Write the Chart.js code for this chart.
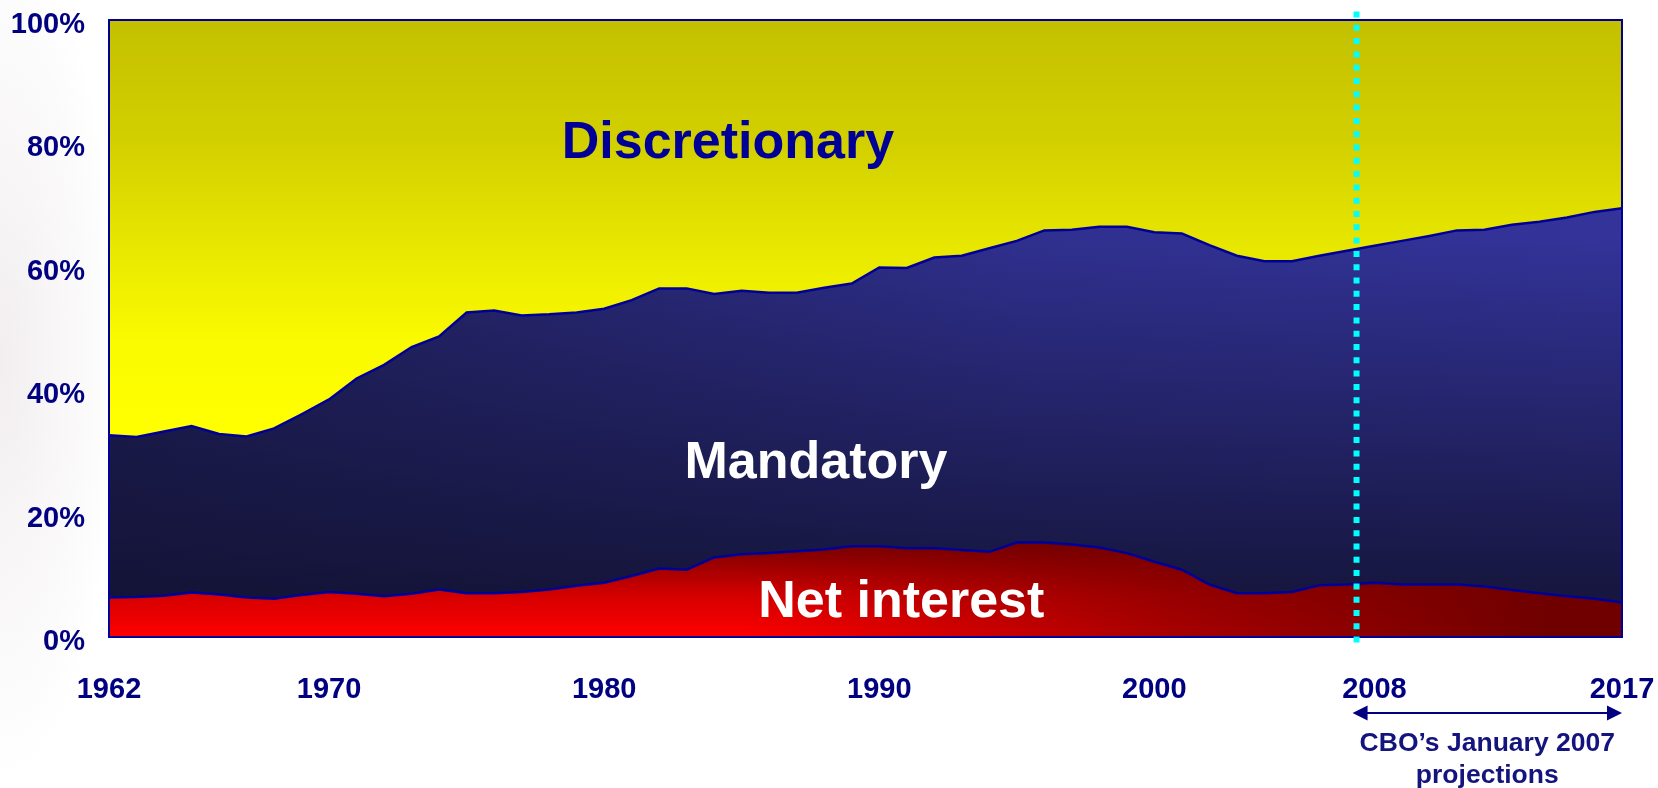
<!DOCTYPE html>
<html lang="en">
<head>
    <meta charset="UTF-8">
    <title>Composition of Federal Spending</title>
    <script src="https://cdn.jsdelivr.net/npm/chart.js"></script>
    <style>
        body, html {
            margin: 0;
            padding: 0;
            width: 100%;
            height: 100%;
            overflow: hidden;
            background: radial-gradient(ellipse 120px 420px at 0px 360px, #f2eef0 0%, #ffffff 100%);
        }
        #wrap {
            position: relative;
            width: 1658px;
            height: 788px;
        }
    </style>
</head>
<body>
<div id="wrap"><canvas id="spendingChart"></canvas></div>
<script>
    // fiscal years on the x axis
    const years = [
        1962, 1963, 1964, 1965, 1966, 1967, 1968, 1969, 1970, 1971,
        1972, 1973, 1974, 1975, 1976, 1977, 1978, 1979, 1980, 1981,
        1982, 1983, 1984, 1985, 1986, 1987, 1988, 1989, 1990, 1991,
        1992, 1993, 1994, 1995, 1996, 1997, 1998, 1999, 2000, 2001,
        2002, 2003, 2004, 2005, 2006, 2007, 2008, 2009, 2010, 2011,
        2012, 2013, 2014, 2015, 2016, 2017
    ];

    // shares of total outlays, percent (stacked bottom to top)
    const netInterest = [
        6.4, 6.5, 6.7, 7.2, 6.9, 6.4, 6.2, 6.8, 7.3, 7.0,
        6.6, 7.0, 7.7, 7.1, 7.1, 7.3, 7.7, 8.3, 8.8, 9.9,
        11.1, 10.9, 12.9, 13.4, 13.6, 13.9, 14.2, 14.7, 14.7, 14.4,
        14.4, 14.1, 13.8, 15.3, 15.3, 15.0, 14.5, 13.6, 12.2, 10.9,
        8.5, 7.1, 7.1, 7.3, 8.4, 8.5, 8.8, 8.5, 8.5, 8.5,
        8.2, 7.6, 7.1, 6.6, 6.2, 5.6
    ];
    const mandatory = [
        26.3, 25.9, 26.6, 27.0, 26.0, 26.1, 27.6, 29.3, 31.2, 34.9,
        37.5, 40.0, 41.0, 45.5, 45.8, 44.8, 44.6, 44.3, 44.4, 44.7,
        45.4, 45.6, 42.7, 42.7, 42.2, 41.9, 42.4, 42.6, 45.2, 45.4,
        47.1, 47.7, 49.2, 48.9, 50.6, 51.0, 52.0, 52.9, 53.4, 54.5,
        55.0, 54.7, 53.8, 53.6, 53.4, 54.1, 54.6, 55.7, 56.5, 57.4,
        57.8, 59.2, 60.2, 61.4, 62.7, 63.9
    ];
    const discretionary = [
        67.3, 67.6, 66.7, 65.8, 67.1, 67.5, 66.2, 63.9, 61.5, 58.1,
        55.9, 53.0, 51.3, 47.4, 47.1, 47.9, 47.7, 47.4, 46.8, 45.4,
        43.5, 43.5, 44.4, 43.9, 44.2, 44.2, 43.4, 42.7, 40.1, 40.2,
        38.5, 38.2, 37.0, 35.8, 34.1, 34.0, 33.5, 33.5, 34.4, 34.6,
        36.5, 38.2, 39.1, 39.1, 38.2, 37.4, 36.6, 35.8, 35.0, 34.1,
        34.0, 33.2, 32.7, 32.0, 31.1, 30.5
    ];

    const xTickYears = [1962, 1970, 1980, 1990, 2000, 2008, 2017];
    const yTickValues = [0, 20, 40, 60, 80, 100];
    const projectionStart = 2007.35;   // dotted divider

    // area labels: [text, year (center), percent (baseline), colour]
    const areaLabels = [
        ['Discretionary', 1984.5, 77.7, '#000096'],
        ['Mandatory', 1987.7, 25.8, '#ffffff'],
        ['Net interest', 1990.8, 3.3, '#ffffff']
    ];

    const NAVY = '#000080';
    const EDGE = '#000099';
    const FONT = '"Liberation Sans", Arial, Helvetica, sans-serif';

    function toPoints(values) {
        return values.map((v, i) => ({ x: years[i], y: v }));
    }

    // fills that mix a vertical and a horizontal gradient
    const fillCache = {};
    function layeredFill(chart, key, vStops, vFrom, vTo, hColor, hStops) {
        const area = chart.chartArea;
        if (!area) return null;
        const id = key + chart.width + 'x' + chart.height + ':' + area.left + ',' + area.top + ',' + area.right;
        if (fillCache[id]) return fillCache[id];
        const y = chart.scales.y;
        const c = document.createElement('canvas');
        c.width = chart.width;
        c.height = chart.height;
        const g = c.getContext('2d');
        const v = g.createLinearGradient(0, y.getPixelForValue(vFrom), 0, y.getPixelForValue(vTo));
        vStops.forEach(s => v.addColorStop(s[0], s[1]));
        g.fillStyle = v;
        g.fillRect(0, 0, c.width, c.height);
        if (hColor) {
            const h = g.createLinearGradient(area.left, 0, area.right, 0);
            hStops.forEach(s => h.addColorStop(s[0], 'rgba(' + hColor + ',' + s[1] + ')'));
            g.fillStyle = h;
            g.fillRect(0, 0, c.width, c.height);
        }
        fillCache[id] = chart.ctx.createPattern(c, 'no-repeat');
        return fillCache[id];
    }

    const netFill = ctx => layeredFill(ctx.chart, 'net',
        [[0, '#ff0000'], [0.45, '#d40000'], [1, '#780000']], 0, 15,
        '112,0,0', [[0, 0], [0.42, 0], [0.7, 0.6], [0.95, 1], [1, 1]]) || '#c00000';

    const mandFill = ctx => layeredFill(ctx.chart, 'mand',
        [[0, '#33339a'], [1, '#15153c']], 65, 5,
        '18,18,50', [[0, 0.6], [0.6, 0.1], [1, 0]]) || '#22225a';

    const discFill = ctx => layeredFill(ctx.chart, 'disc',
        [[0, '#c3c000'], [0.31, '#d3d000'], [0.61, '#ebeb00'], [0.8, '#fafa00'], [1, '#ffff00']], 100, 35,
        null, null) || '#eeee00';

    // keep tick labels from pushing the plot area inwards
    function noOverflow(scale) {
        scale.paddingTop = 0;
        scale.paddingBottom = 0;
        scale.paddingLeft = 0;
        scale.paddingRight = 0;
    }

    const decorations = {
        id: 'decorations',
        afterDatasetsDraw(chart) {
            const { ctx, chartArea: a, scales: { x, y } } = chart;
            ctx.save();

            // area labels
            ctx.textAlign = 'center';
            ctx.textBaseline = 'alphabetic';
            areaLabels.forEach(([text, yr, pct, color]) => {
                ctx.font = 'bold 52px ' + FONT;
                ctx.fillStyle = color;
                ctx.fillText(text, x.getPixelForValue(yr), y.getPixelForValue(pct));
            });

            // plot frame
            ctx.strokeStyle = EDGE;
            ctx.lineWidth = 2;
            ctx.strokeRect(a.left, a.top, a.right - a.left, a.bottom - a.top);

            // projection divider
            const px = x.getPixelForValue(projectionStart);
            ctx.strokeStyle = '#00ffff';
            ctx.lineWidth = 6;
            ctx.setLineDash([6, 7.3]);
            ctx.beginPath();
            ctx.moveTo(px, a.top - 8.5);
            ctx.lineTo(px, a.bottom + 9);
            ctx.stroke();
            ctx.setLineDash([]);

            // double arrow under the projection years
            const x0 = px - 4, x1 = x.getPixelForValue(2017);
            const ay = a.bottom + 76;
            ctx.strokeStyle = NAVY;
            ctx.fillStyle = NAVY;
            ctx.lineWidth = 2;
            ctx.beginPath();
            ctx.moveTo(x0 + 12, ay);
            ctx.lineTo(x1 - 12, ay);
            ctx.stroke();
            ctx.beginPath();
            ctx.moveTo(x0, ay);
            ctx.lineTo(x0 + 15, ay - 7.5);
            ctx.lineTo(x0 + 15, ay + 7.5);
            ctx.closePath();
            ctx.fill();
            ctx.beginPath();
            ctx.moveTo(x1, ay);
            ctx.lineTo(x1 - 15, ay - 7.5);
            ctx.lineTo(x1 - 15, ay + 7.5);
            ctx.closePath();
            ctx.fill();

            // caption
            const cx = (x0 + x1) / 2;
            ctx.fillStyle = '#14147e';
            ctx.font = 'bold 26.5px ' + FONT;
            ctx.textBaseline = 'middle';
            ctx.fillText('CBO\u2019s January 2007', cx, ay + 31);
            ctx.fillText('projections', cx, ay + 63);

            ctx.restore();
        }
    };

    const ctx = document.getElementById('spendingChart').getContext('2d');
    const spendingChart = new Chart(ctx, {
        type: 'line',
        data: {
            datasets: [{
                label: 'Net interest',
                data: toPoints(netInterest),
                backgroundColor: netFill,
                borderColor: EDGE,
                borderWidth: 2.5,
                fill: 'origin'
            }, {
                label: 'Mandatory',
                data: toPoints(mandatory),
                backgroundColor: mandFill,
                borderColor: EDGE,
                borderWidth: 2.5,
                fill: '-1'
            }, {
                label: 'Discretionary',
                data: toPoints(discretionary),
                backgroundColor: discFill,
                borderColor: 'rgba(0,0,0,0)',
                borderWidth: 0,
                fill: '-1'
            }]
        },
        options: {
            responsive: true,
            maintainAspectRatio: false,
            animation: false,
            elements: {
                point: { radius: 0, hoverRadius: 0 },
                line: { tension: 0 }
            },
            layout: {
                padding: { top: 20, right: 36, bottom: 0, left: 0 }
            },
            scales: {
                x: {
                    type: 'linear',
                    min: 1962,
                    max: 2017,
                    grid: { display: false, drawTicks: false },
                    border: { display: false },
                    afterBuildTicks: scale => {
                        scale.ticks = xTickYears.map(v => ({ value: v }));
                    },
                    afterFit: scale => { scale.height = 151; noOverflow(scale); },
                    ticks: {
                        autoSkip: false,
                        maxRotation: 0,
                        padding: 36,
                        color: NAVY,
                        font: { family: FONT, size: 29, weight: 'bold' },
                        callback: v => String(v)
                    }
                },
                y: {
                    stacked: true,
                    min: 0,
                    max: 100,
                    grid: { display: false, drawTicks: false },
                    border: { display: false },
                    afterBuildTicks: scale => {
                        scale.ticks = yTickValues.map(v => ({ value: v }));
                    },
                    afterFit: scale => { scale.width = 109; noOverflow(scale); },
                    ticks: {
                        padding: 24,
                        labelOffset: 5,
                        color: NAVY,
                        font: { family: FONT, size: 29, weight: 'bold' },
                        callback: v => v + '%'
                    }
                }
            },
            plugins: {
                legend: { display: false },
                tooltip: { enabled: false }
            }
        },
        plugins: [decorations]
    });
</script>
</body>
</html>
